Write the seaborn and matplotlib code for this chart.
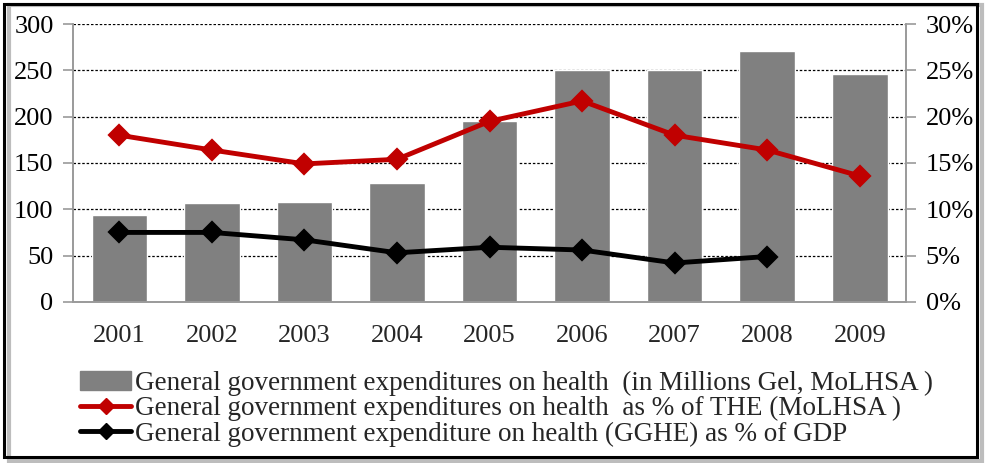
import matplotlib
matplotlib.use("Agg")
import matplotlib.pyplot as plt
import matplotlib.patches as mpatches
from matplotlib.lines import Line2D
from matplotlib.ticker import FixedLocator
import pandas as pd
import seaborn as sns

years = ["2001", "2002", "2003", "2004", "2005", "2006", "2007", "2008", "2009"]
gghe_mln = [94, 107, 108, 128, 195, 250, 250, 271, 246]
gghe_pct_the = [18.0, 16.4, 14.9, 15.4, 19.5, 21.7, 18.0, 16.4, 13.6]
gghe_pct_gdp = [7.5, 7.5, 6.7, 5.3, 5.9, 5.6, 4.2, 4.9, None]

left_ticks = [0, 50, 100, 150, 200, 250, 300]
right_ticks = [0, 5, 10, 15, 20, 25, 30]

label_bar = "General government expenditures on health  (in Millions Gel, MoLHSA )"
label_the = "General government expenditures on health  as % of THE (MoLHSA )"
label_gdp = "General government expenditure on health (GGHE) as % of GDP"

BAR = "#808080"
RED = "#C00000"
AXIS = "#9a9a9a"

sns.set_style("white")
plt.rcParams["font.family"] = ["Liberation Serif", "DejaVu Serif"]

df = pd.DataFrame({"year": years, "mln": gghe_mln, "the": gghe_pct_the, "gdp": gghe_pct_gdp})

fig = plt.figure(figsize=(9.87, 4.63), dpi=100)
ax = fig.add_axes([0.074, 0.348, 0.844, 0.600])

for y in left_ticks[1:]:
    ax.axhline(y, color="black", lw=0.9, ls=(0, (2, 1.5)), zorder=0)

sns.barplot(data=df, x="year", y="mln", order=years, color=BAR, width=0.6,
            saturation=1, ax=ax, zorder=2)

ax2 = ax.twinx()
sns.pointplot(data=df, x="year", y="the", order=years, color=RED, markers="D",
              markersize=9, linewidth=3.5, errorbar=None, ax=ax2)
sns.pointplot(data=df.dropna(), x="year", y="gdp", order=years, color="black",
              markers="D", markersize=9, linewidth=3.5, errorbar=None, ax=ax2)

ax.set_xlim(-0.5, len(years) - 0.5)
ax.set_ylim(0, 300)
ax2.set_ylim(0, 30)
ax.set_yticks(left_ticks)
ax2.set_yticks(right_ticks)
ax2.set_yticklabels([f"{t}%" for t in right_ticks])

for a in (ax, ax2):
    a.set_xlabel("")
    a.set_ylabel("")
    a.spines["top"].set_visible(False)
    for s in ("left", "right", "bottom"):
        a.spines[s].set_color(AXIS)
        a.spines[s].set_linewidth(1.2)
    a.tick_params(axis="y", labelsize=19, colors=AXIS, labelcolor="black",
                  length=7, width=1.2, direction="out", pad=7)

ax.xaxis.set_minor_locator(FixedLocator([i - 0.5 for i in range(len(years) + 1)]))
ax.tick_params(axis="x", which="major", length=0, labelsize=19, pad=17)
ax.tick_params(axis="x", which="minor", length=7, width=1.2, color=AXIS, direction="out")
ax2.tick_params(axis="x", length=0)
ax.set_zorder(ax2.get_zorder() - 1)
ax2.patch.set_visible(False)
ax.patch.set_visible(True)

handles = [
    mpatches.Patch(color=BAR, label=label_bar),
    Line2D([], [], color=RED, lw=3.5, marker="D", markersize=8, label=label_the),
    Line2D([], [], color="black", lw=3.5, marker="D", markersize=8, label=label_gdp),
]
fig.legend(handles=handles, loc="center left", bbox_to_anchor=(0.081, 0.117),
           frameon=False, fontsize=19.5, handlelength=1.9, handletextpad=0.15,
           labelspacing=0.0, borderpad=0, borderaxespad=0)

# outer frame with drop shadow
fig.patches.append(mpatches.Rectangle((0.009, 0.004), 0.986, 0.985, transform=fig.transFigure,
                                      facecolor="none", edgecolor="#bdbdbd", lw=3, zorder=0))
fig.patches.append(mpatches.Rectangle((0.004, 0.012), 0.986, 0.980, transform=fig.transFigure,
                                      facecolor="none", edgecolor="black", lw=2.2, zorder=1))

fig.savefig("out.png", dpi=100)
